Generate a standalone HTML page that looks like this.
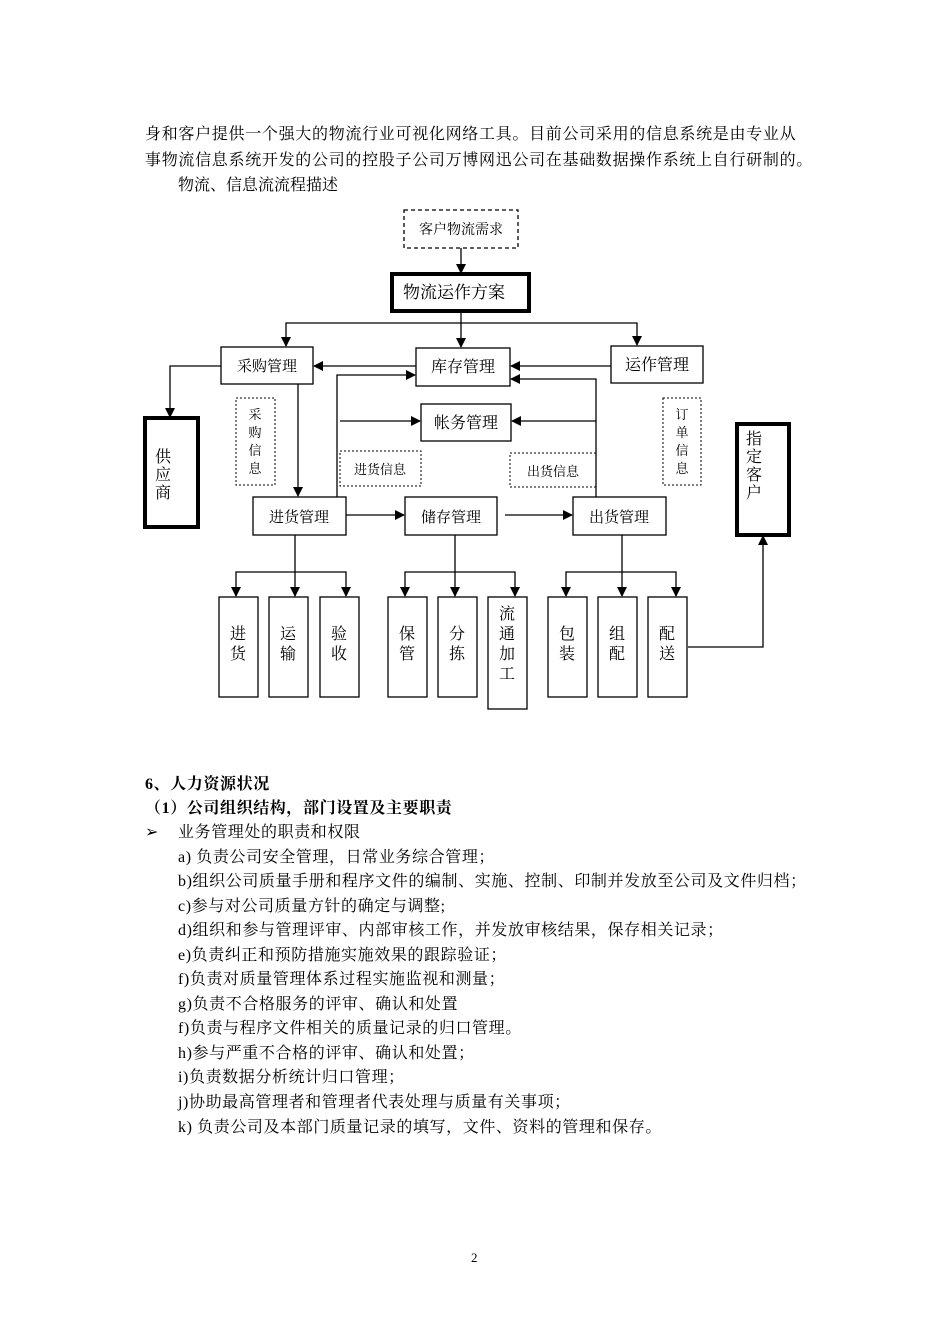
<!DOCTYPE html>
<html><head><meta charset="utf-8"><style>
html,body{margin:0;padding:0;background:#fff;}
body{width:950px;height:1344px;position:relative;overflow:hidden;font-family:"Liberation Serif","Noto Serif CJK SC",serif;color:#000;}
.t{position:absolute;font-size:16px;line-height:20px;white-space:nowrap;}
.j{letter-spacing:0.7px;}
.l{letter-spacing:0.6px;}
.b{font-weight:bold;}
svg{position:absolute;left:0;top:0;}
svg text{font-family:"Liberation Serif","Noto Serif CJK SC",serif;}
</style></head><body>
<div class="t j" style="left:145px;top:125px;">身和客户提供一个强大的物流行业可视化网络工具。目前公司采用的信息系统是由专业从</div>
<div class="t j" style="left:145px;top:151px;">事物流信息系统开发的公司的控股子公司万博网迅公司在基础数据操作系统上自行研制的。</div>
<div class="t" style="left:178px;top:176px;">物流、信息流流程描述</div>

<svg width="950" height="1344" viewBox="0 0 950 1344">
<defs><marker id="a" markerWidth="10" markerHeight="10" refX="9" refY="5" orient="auto" markerUnits="userSpaceOnUse"><path d="M0,0 L10,5 L0,10 z" fill="#000"/></marker></defs>
<g fill="none" stroke="#000" stroke-width="1.3">
<rect x="404" y="210" width="114" height="38" stroke-dasharray="4,3"/>
<rect x="392" y="274" width="137" height="37" stroke-width="4"/>
<rect x="221" y="347" width="92" height="37"/>
<rect x="416" y="348" width="94" height="38"/>
<rect x="611" y="346" width="92" height="37"/>
<rect x="421" y="404" width="90" height="37"/>
<rect x="145" y="418" width="53" height="109" stroke-width="4"/>
<rect x="737" y="424" width="52" height="111" stroke-width="4"/>
<g stroke-dasharray="2,2" stroke-width="1">
<rect x="236" y="398" width="39" height="87"/>
<rect x="340" y="451" width="81" height="35"/>
<rect x="510" y="453" width="86" height="34"/>
<rect x="663" y="398" width="38" height="87"/>
</g>
<rect x="253" y="497" width="93" height="38"/>
<rect x="405" y="497" width="92" height="38"/>
<rect x="573" y="497" width="93" height="38"/>
<rect x="219" y="597" width="39" height="100"/>
<rect x="269" y="597" width="39" height="100"/>
<rect x="320" y="597" width="39" height="100"/>
<rect x="388" y="597" width="39" height="100"/>
<rect x="438" y="597" width="39" height="100"/>
<rect x="488" y="597" width="39" height="112"/>
<rect x="548" y="597" width="39" height="100"/>
<rect x="598" y="597" width="39" height="100"/>
<rect x="648" y="597" width="39" height="100"/>
<g marker-end="url(#a)">
<line x1="461" y1="248" x2="461" y2="273"/>
<line x1="461" y1="311" x2="461" y2="347"/>
<polyline points="461,323 286,323 286,346"/>
<polyline points="461,323 637,323 637,345"/>
<line x1="416" y1="366" x2="314" y2="366"/>
<line x1="611" y1="366" x2="511" y2="366"/>
<polyline points="337,497 337,375 415,375"/>
<polyline points="596,497 596,379 511,379"/>
<line x1="340" y1="421" x2="420" y2="421"/>
<line x1="596" y1="421" x2="512" y2="421"/>
<polyline points="221,366 170,366 170,417"/>
<line x1="298" y1="384" x2="298" y2="496"/>
<line x1="346" y1="515" x2="404" y2="515"/>
<line x1="505" y1="515" x2="572" y2="515"/>
<line x1="295" y1="535" x2="295" y2="596"/>
<polyline points="295,572 236,572 236,596"/>
<polyline points="295,572 346,572 346,596"/>
<line x1="455" y1="535" x2="455" y2="596"/>
<polyline points="455,572 405,572 405,596"/>
<polyline points="455,572 515,572 515,596"/>
<line x1="622" y1="535" x2="622" y2="596"/>
<polyline points="622,572 566,572 566,596"/>
<polyline points="622,572 676,572 676,596"/>
<polyline points="688,647 763,647 763,536"/>
</g>
</g>
<g font-size="15" fill="#000">
<text x="461" y="234" text-anchor="middle" font-size="14">客户物流需求</text>
<text x="403" y="298" font-size="17">物流运作方案</text>
<text x="267" y="371" text-anchor="middle">采购管理</text>
<text x="463" y="372" text-anchor="middle" font-size="16">库存管理</text>
<text x="657" y="370" text-anchor="middle" font-size="16">运作管理</text>
<text x="466" y="428" text-anchor="middle" font-size="16">帐务管理</text>
<text x="299" y="522" text-anchor="middle">进货管理</text>
<text x="451" y="522" text-anchor="middle">储存管理</text>
<text x="619" y="522" text-anchor="middle">出货管理</text>
<g font-size="13" text-anchor="middle">
<text x="380" y="474">进货信息</text>
<text x="553" y="476">出货信息</text>
<text x="255" y="419">采</text><text x="255" y="437">购</text><text x="255" y="455">信</text><text x="255" y="473">息</text>
<text x="682" y="419">订</text><text x="682" y="437">单</text><text x="682" y="455">信</text><text x="682" y="473">息</text>
</g>
<g text-anchor="middle" font-size="16">
<text x="163" y="462">供</text><text x="163" y="480">应</text><text x="163" y="498">商</text>
<text x="754" y="444">指</text><text x="754" y="462">定</text><text x="754" y="480">客</text><text x="754" y="498">户</text>
<text x="238" y="639">进</text><text x="238" y="659">货</text>
<text x="288" y="639">运</text><text x="288" y="659">输</text>
<text x="339" y="639">验</text><text x="339" y="659">收</text>
<text x="407" y="639">保</text><text x="407" y="659">管</text>
<text x="457" y="639">分</text><text x="457" y="659">拣</text>
<text x="507" y="619">流</text><text x="507" y="639">通</text><text x="507" y="659">加</text><text x="507" y="679">工</text>
<text x="567" y="639">包</text><text x="567" y="659">装</text>
<text x="617" y="639">组</text><text x="617" y="659">配</text>
<text x="667" y="639">配</text><text x="667" y="659">送</text>
</g>
</g>
</svg>

<div class="t b l" style="left:145px;top:775px;">6、人力资源状况</div>
<div class="t b l" style="left:145px;top:799px;">（1）公司组织结构，部门设置及主要职责</div>
<div class="t" style="left:145px;top:823px;">➢</div>
<div class="t l" style="left:178px;top:823px;">业务管理处的职责和权限</div>
<div class="t l" style="left:178px;top:848px;">a) 负责公司安全管理，日常业务综合管理；</div>
<div class="t l" style="left:178px;top:872px;">b)组织公司质量手册和程序文件的编制、实施、控制、印制并发放至公司及文件归档；</div>
<div class="t l" style="left:178px;top:897px;">c)参与对公司质量方针的确定与调整;</div>
<div class="t l" style="left:178px;top:921px;">d)组织和参与管理评审、内部审核工作，并发放审核结果，保存相关记录；</div>
<div class="t l" style="left:178px;top:946px;">e)负责纠正和预防措施实施效果的跟踪验证；</div>
<div class="t l" style="left:178px;top:970px;">f)负责对质量管理体系过程实施监视和测量；</div>
<div class="t l" style="left:178px;top:995px;">g)负责不合格服务的评审、确认和处置</div>
<div class="t l" style="left:178px;top:1019px;">f)负责与程序文件相关的质量记录的归口管理。</div>
<div class="t l" style="left:178px;top:1044px;">h)参与严重不合格的评审、确认和处置；</div>
<div class="t l" style="left:178px;top:1068px;">i)负责数据分析统计归口管理；</div>
<div class="t l" style="left:178px;top:1093px;">j)协助最高管理者和管理者代表处理与质量有关事项；</div>
<div class="t l" style="left:178px;top:1118px;">k) 负责公司及本部门质量记录的填写，文件、资料的管理和保存。</div>
<div class="t" style="left:471px;top:1248px;font-size:13px;">2</div>
</body></html>
